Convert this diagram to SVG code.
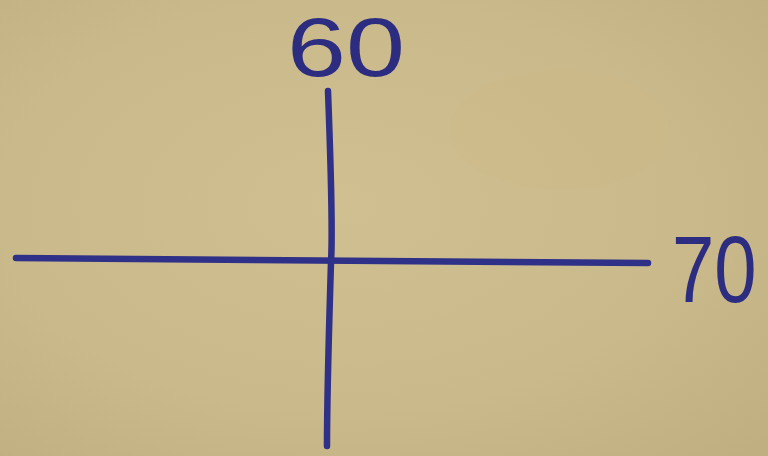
<svg xmlns="http://www.w3.org/2000/svg" width="768" height="456" viewBox="0 0 768 456">
<defs>
<radialGradient id="paper" cx="0.45" cy="0.45" r="0.75">
<stop offset="0" stop-color="#d0bf90"/>
<stop offset="0.6" stop-color="#cab98a"/>
<stop offset="1" stop-color="#c0af80"/>
</radialGradient>
<style>
.ink{fill:none;stroke:#2f3088;stroke-width:6.5;stroke-linecap:round;stroke-linejoin:round}
.lbl{font-family:"Liberation Sans",Arial,sans-serif;fill:#2c2d80}
</style>
</defs>
<rect width="768" height="456" fill="url(#paper)"/>
<ellipse cx="560" cy="130" rx="110" ry="60" fill="#d3bb86" opacity="0.2"/>
<g id="connectors">
<path class="ink" d="M328,91 C331,170 333,230 331,262 C329,330 327,390 327,446"/>
<path class="ink" d="M16,258 C200,258 420,260 648,263"/>
</g>
<g id="label-60">
<text class="lbl" x="287" y="76" font-size="84" textLength="118" lengthAdjust="spacingAndGlyphs">60</text>
</g>
<g id="label-70">
<text class="lbl" transform="translate(672,302) scale(1,1.25)" x="0" y="0" font-size="76">70</text>
</g>
</svg>
